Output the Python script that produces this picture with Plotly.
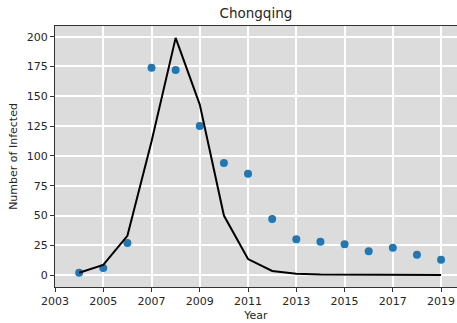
import plotly.graph_objects as go

years = list(range(2004, 2020))
observed = [2, 6, 27, 174, 172, 125, 94, 85, 47, 30, 28, 26, 20, 23, 17, 13]
model = [2, 8.5, 33, 112, 199, 143, 50, 13.5, 3.5, 1.2, 0.5, 0.3, 0.2, 0.1, 0.1, 0.1]
xticks = list(range(2003, 2020, 2))
yticks = [0, 25, 50, 75, 100, 125, 150, 175, 200]

fig = go.Figure()
fig.add_trace(go.Scatter(x=years, y=observed, mode="markers",
                         marker=dict(color="#1f77b4", size=8), showlegend=False))
fig.add_trace(go.Scatter(x=years, y=model, mode="lines",
                         line=dict(color="black", width=2), showlegend=False))

font = dict(family="DejaVu Sans", size=11, color="#262626")
fig.update_layout(
    width=457, height=323,
    margin=dict(l=55, r=0, t=26, b=36),
    paper_bgcolor="white", plot_bgcolor="#dcdcdc",
    font=font,
    title=dict(text="Chongqing", x=0.56, xanchor="center", y=0.96, yanchor="middle",
               font=dict(family="DejaVu Sans", size=13.5, color="#262626")),
    xaxis=dict(range=[2003, 2019.66], tickvals=xticks, ticktext=[str(t) for t in xticks],
               showgrid=True, gridcolor="white", gridwidth=2, zeroline=False,
               showline=True, linecolor="#333", linewidth=1, mirror=True,
               ticks="outside", ticklen=4, tickcolor="#333",
               title=dict(text="Year", standoff=4, font=font)),
    yaxis=dict(range=[-9.95, 208.95], tickvals=yticks,
               showgrid=True, gridcolor="white", gridwidth=2, zeroline=False,
               showline=True, linecolor="#333", linewidth=1,
               ticks="outside", ticklen=4, tickcolor="#333",
               title=dict(text="Number of Infected", standoff=6, font=font)),
)
fig.write_html("out.html", config={"displayModeBar": False},
               post_script="document.body.style.margin='0';document.body.style.overflow='hidden';")
